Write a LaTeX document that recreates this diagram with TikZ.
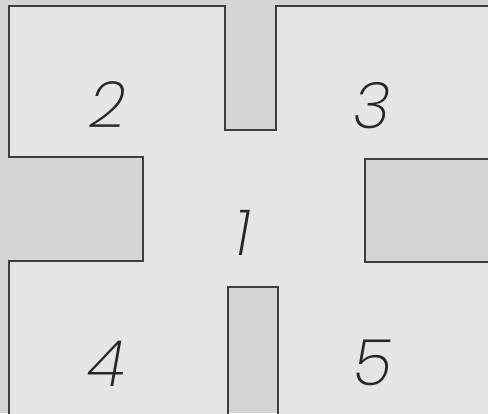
\documentclass[tikz,border=0pt]{standalone}
\usepackage{fontspec}
\newfontfamily\roomfont{Poppins ExtraLight Italic}
\definecolor{slotgray}{HTML}{D4D5D2}
\definecolor{roomgray}{HTML}{E5E6E3}
\definecolor{wallgray}{HTML}{3E3E3E}

\begin{document}
\begin{tikzpicture}[
    x=1pt, y=-1pt,
    % Style for the walls
    wall/.style={
        line width=1.2pt,
        draw=wallgray,
        line join=miter
    },
    % Style for the room numbers
    roomlabel/.style={
        font=\roomfont\fontsize{64}{64}\selectfont,
        text=black!85,
        inner sep=0pt
    }
]

% --- Background and bounding box ---
\fill[slotgray] (0,0) rectangle (488,413);
\useasboundingbox (0,0) rectangle (488,413);

% --- Floor of the rooms ---
\fill[roomgray] (9,6) -- (225,6) -- (225,130) -- (276,130) -- (276,6) -- (490,6)
    -- (490,159) -- (365,159) -- (365,262) -- (490,262) -- (490,415)
    -- (278,415) -- (278,287) -- (228,287) -- (228,415) -- (9,415)
    -- (9,261) -- (143,261) -- (143,157) -- (9,157) -- cycle;

% --- Walls ---
\draw[wall] (9,415) -- (9,261) -- (143,261) -- (143,157) -- (9,157) -- (9,6)
    -- (225,6) -- (225,130) -- (276,130) -- (276,6) -- (490,6);
\draw[wall] (490,159) -- (365,159) -- (365,262) -- (490,262);
\draw[wall] (228,415) -- (228,287) -- (278,287) -- (278,415);

% --- Room numbers ---
\node[roomlabel] (r1) at (243,233) {1};
\node[roomlabel] (r2) at (108,105) {2};
\node[roomlabel] (r3) at (372,106) {3};
\node[roomlabel] (r4) at (106,364) {4};
\node[roomlabel] (r5) at (373,363) {5};

\end{tikzpicture}
\end{document}
